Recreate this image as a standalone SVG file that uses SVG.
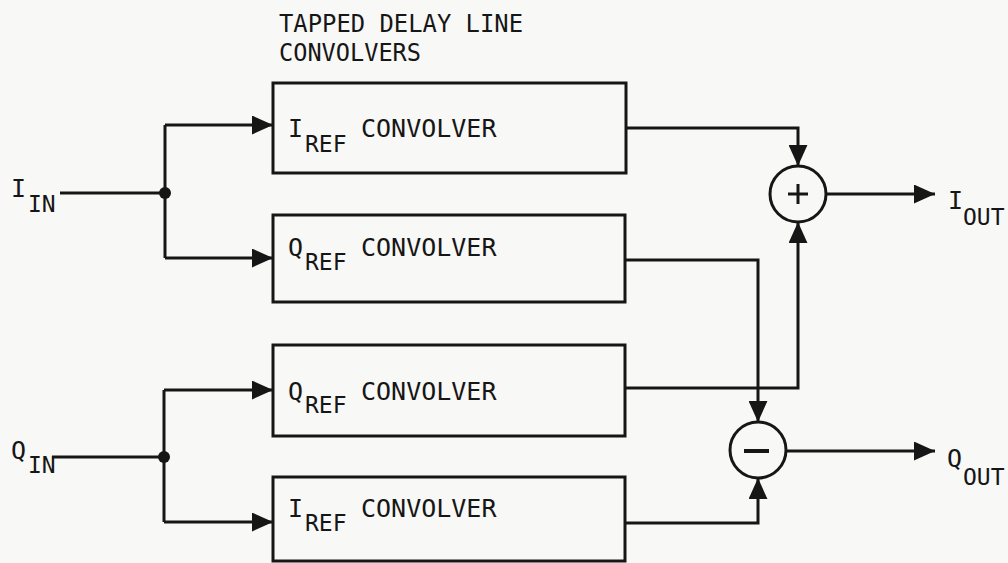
<svg xmlns="http://www.w3.org/2000/svg" width="1008" height="563" viewBox="0 0 1008 563">
<style>
.t{font-family:"DejaVu Sans Mono","Liberation Mono",monospace;font-size:25px;fill:#161616}
.s{font-family:"DejaVu Sans Mono","Liberation Mono",monospace;font-size:23px;fill:#161616}
.box{fill:none;stroke:#161616;stroke-width:3}
.ln{fill:none;stroke:#161616;stroke-width:3}
.sum{fill:none;stroke:#161616;stroke-width:3}
</style>
<defs>
<marker id="ah" viewBox="0 0 20 18" refX="20" refY="9" markerWidth="21" markerHeight="19" markerUnits="userSpaceOnUse" orient="auto">
<path d="M0,0 L20,9 L0,18 z" fill="#161616"/>
</marker>
</defs>
<rect width="1008" height="563" fill="#f8f8f6"/>
<g id="title">
<text class="t" x="279" y="32" textLength="244" lengthAdjust="spacingAndGlyphs">TAPPED DELAY LINE</text>
<text class="t" x="279" y="61" textLength="142" lengthAdjust="spacingAndGlyphs">CONVOLVERS</text>
</g>
<g id="in-labels">
<text class="t" x="11" y="197">I</text><text class="s" x="28" y="212">IN</text>
<text class="t" x="11" y="459">Q</text><text class="s" x="28" y="473">IN</text>
</g>
<g id="out-labels">
<text class="t" x="948" y="209">I</text><text class="s" x="963" y="225">OUT</text>
<text class="t" x="947" y="467">Q</text><text class="s" x="963" y="485">OUT</text>
</g>
<g id="box1">
<rect class="box" x="273" y="83" width="353" height="90"/>
<text class="t" x="288" y="137">I</text><text class="s" x="305" y="152">REF</text>
<text class="t" x="361" y="137">CONVOLVER</text>
</g>
<g id="box2">
<rect class="box" x="273" y="215" width="352" height="87"/>
<text class="t" x="288" y="256">Q</text><text class="s" x="305" y="270">REF</text>
<text class="t" x="361" y="256">CONVOLVER</text>
</g>
<g id="box3">
<rect class="box" x="273" y="345" width="352" height="91"/>
<text class="t" x="288" y="400">Q</text><text class="s" x="305" y="413">REF</text>
<text class="t" x="361" y="400">CONVOLVER</text>
</g>
<g id="box4">
<rect class="box" x="273" y="477" width="352" height="84"/>
<text class="t" x="288" y="517">I</text><text class="s" x="305" y="531">REF</text>
<text class="t" x="361" y="517">CONVOLVER</text>
</g>
<g id="adder">
<circle class="sum" cx="798" cy="194" r="28"/>
<path class="ln" d="M798,184 V204 M788,194 H808"/>
</g>
<g id="subtractor">
<circle class="sum" cx="758" cy="450" r="28"/>
<path d="M744,451 H769" stroke="#161616" stroke-width="4"/>
</g>
<g id="connectors">
<path class="ln" d="M60,193 H165"/>
<path class="ln" d="M165,125 V258"/>
<path class="ln" d="M165,125 H273" marker-end="url(#ah)"/>
<path class="ln" d="M165,258 H273" marker-end="url(#ah)"/>
<circle cx="165" cy="193" r="6" fill="#161616"/>
<path class="ln" d="M52,457 H164"/>
<path class="ln" d="M164,390 V522"/>
<path class="ln" d="M164,390 H273" marker-end="url(#ah)"/>
<path class="ln" d="M164,522 H273" marker-end="url(#ah)"/>
<circle cx="164" cy="457" r="6" fill="#161616"/>
<path class="ln" d="M626,128 H798 V166" marker-end="url(#ah)"/>
<path class="ln" d="M625,388 H798 V222" marker-end="url(#ah)"/>
<path class="ln" d="M625,260 H758 V422" marker-end="url(#ah)"/>
<path class="ln" d="M625,523 H758 V478" marker-end="url(#ah)"/>
<path class="ln" d="M826,194 H935" marker-end="url(#ah)"/>
<path class="ln" d="M786,451 H935" marker-end="url(#ah)"/>
</g>
</svg>
